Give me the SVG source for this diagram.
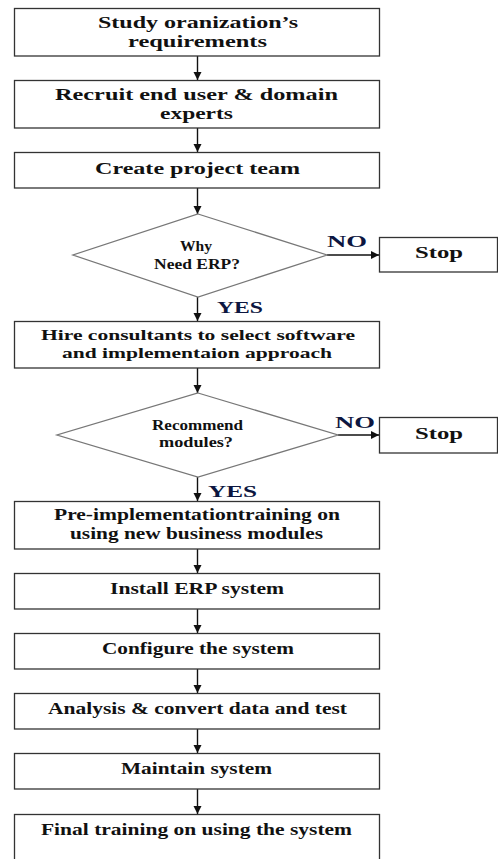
<svg xmlns="http://www.w3.org/2000/svg" width="498" height="859" viewBox="0 0 498 859">
<style>
.box{fill:#fff;stroke:#333;stroke-width:1.3}
.dia{fill:#fff;stroke:#777;stroke-width:1.3}
.t{font-family:"Liberation Serif","Times New Roman",serif;font-weight:bold;font-size:17px;fill:#111;text-anchor:middle}
.s{font-size:14px}
.m{font-size:15px}
.lab{font-family:"Liberation Serif","Times New Roman",serif;font-weight:bold;font-size:17px;fill:#0c1640}
.c{stroke:#111;stroke-width:1.4;fill:none;marker-end:url(#ah)}
</style>
<defs>
<marker id="ah" markerUnits="userSpaceOnUse" markerWidth="10" markerHeight="10" refX="8" refY="4" orient="auto">
<path d="M0,0 L8,4 L0,8 Z" fill="#111"/>
</marker>
</defs>
<rect width="498" height="859" fill="#fff"/>
<g id="connectors">
<line class="c" x1="197.5" y1="56" x2="197.5" y2="80"/>
<line class="c" x1="197.5" y1="128" x2="197.5" y2="152"/>
<line class="c" x1="197.5" y1="188" x2="197.5" y2="214"/>
<line class="c" x1="197.5" y1="297" x2="197.5" y2="321"/>
<line class="c" x1="197.5" y1="368" x2="197.5" y2="393"/>
<line class="c" x1="197.5" y1="477" x2="197.5" y2="501"/>
<line class="c" x1="197.5" y1="549" x2="197.5" y2="573"/>
<line class="c" x1="197.5" y1="609" x2="197.5" y2="633"/>
<line class="c" x1="197.5" y1="669" x2="197.5" y2="693"/>
<line class="c" x1="197.5" y1="729" x2="197.5" y2="753"/>
<line class="c" x1="197.5" y1="789" x2="197.5" y2="814"/>
<line class="c" x1="327" y1="255" x2="379" y2="255"/>
<line class="c" x1="338" y1="435" x2="379" y2="435"/>
<text class="lab" x="327" y="247" textLength="40" lengthAdjust="spacingAndGlyphs">NO</text>
<text class="lab" x="217" y="313" textLength="46" lengthAdjust="spacingAndGlyphs">YES</text>
<text class="lab" x="335" y="428" textLength="40" lengthAdjust="spacingAndGlyphs">NO</text>
<text class="lab" x="208" y="497" textLength="49" lengthAdjust="spacingAndGlyphs">YES</text>
</g>
<g id="n1">
<rect class="box" x="14.5" y="8.5" width="365" height="47.5"/>
<text class="t" x="198" y="28" textLength="200" lengthAdjust="spacingAndGlyphs">Study oranization’s</text>
<text class="t" x="197.5" y="47" textLength="139" lengthAdjust="spacingAndGlyphs">requirements</text>
</g>
<g id="n2">
<rect class="box" x="14.5" y="80.5" width="365" height="47.5"/>
<text class="t" x="196.5" y="100" textLength="283" lengthAdjust="spacingAndGlyphs">Recruit end user &amp; domain</text>
<text class="t" x="196.5" y="119" textLength="73" lengthAdjust="spacingAndGlyphs">experts</text>
</g>
<g id="n3">
<rect class="box" x="14.5" y="152.5" width="365" height="35.5"/>
<text class="t" x="197.5" y="174" textLength="205" lengthAdjust="spacingAndGlyphs">Create project team</text>
</g>
<g id="d1">
<polygon class="dia" points="198,214 327,255 198,297 73,255"/>
<text class="t s" x="196" y="251" textLength="32" lengthAdjust="spacingAndGlyphs">Why</text>
<text class="t s" x="197" y="269" textLength="86" lengthAdjust="spacingAndGlyphs">Need ERP?</text>
</g>
<g id="stop1">
<rect class="box" x="379.5" y="237.5" width="118" height="34.5"/>
<text class="t" x="439" y="258" textLength="48" lengthAdjust="spacingAndGlyphs">Stop</text>
</g>
<g id="n4">
<rect class="box" x="14.5" y="321.5" width="365" height="46.5"/>
<text class="t m" x="198" y="340" textLength="314" lengthAdjust="spacingAndGlyphs">Hire consultants to select software</text>
<text class="t m" x="197" y="358" textLength="270" lengthAdjust="spacingAndGlyphs">and implementaion approach</text>
</g>
<g id="d2">
<polygon class="dia" points="198,393 338,435 198,477 57,435"/>
<text class="t s" x="197.5" y="430" textLength="91" lengthAdjust="spacingAndGlyphs">Recommend</text>
<text class="t s" x="196" y="447" textLength="74" lengthAdjust="spacingAndGlyphs">modules?</text>
</g>
<g id="stop2">
<rect class="box" x="379.5" y="417.5" width="118" height="35.5"/>
<text class="t" x="439" y="439" textLength="48" lengthAdjust="spacingAndGlyphs">Stop</text>
</g>
<g id="n5">
<rect class="box" x="14.5" y="501.5" width="365" height="47.5"/>
<text class="t" x="197" y="520" textLength="286" lengthAdjust="spacingAndGlyphs">Pre-implementationtraining on</text>
<text class="t" x="196.5" y="539" textLength="253" lengthAdjust="spacingAndGlyphs">using new business modules</text>
</g>
<g id="n6">
<rect class="box" x="14.5" y="573.5" width="365" height="35.5"/>
<text class="t" x="197" y="594" textLength="174" lengthAdjust="spacingAndGlyphs">Install ERP system</text>
</g>
<g id="n7">
<rect class="box" x="14.5" y="633.5" width="365" height="35.5"/>
<text class="t" x="198" y="654" textLength="192" lengthAdjust="spacingAndGlyphs">Configure the system</text>
</g>
<g id="n8">
<rect class="box" x="14.5" y="693.5" width="365" height="35.5"/>
<text class="t" x="197.5" y="714" textLength="299" lengthAdjust="spacingAndGlyphs">Analysis &amp; convert data and test</text>
</g>
<g id="n9">
<rect class="box" x="14.5" y="753.5" width="365" height="35.5"/>
<text class="t" x="196.5" y="774" textLength="151" lengthAdjust="spacingAndGlyphs">Maintain system</text>
</g>
<g id="n10">
<rect class="box" x="14.5" y="814.5" width="365" height="60"/>
<text class="t" x="196.5" y="835" textLength="311" lengthAdjust="spacingAndGlyphs">Final training on using the system</text>
</g>
</svg>
